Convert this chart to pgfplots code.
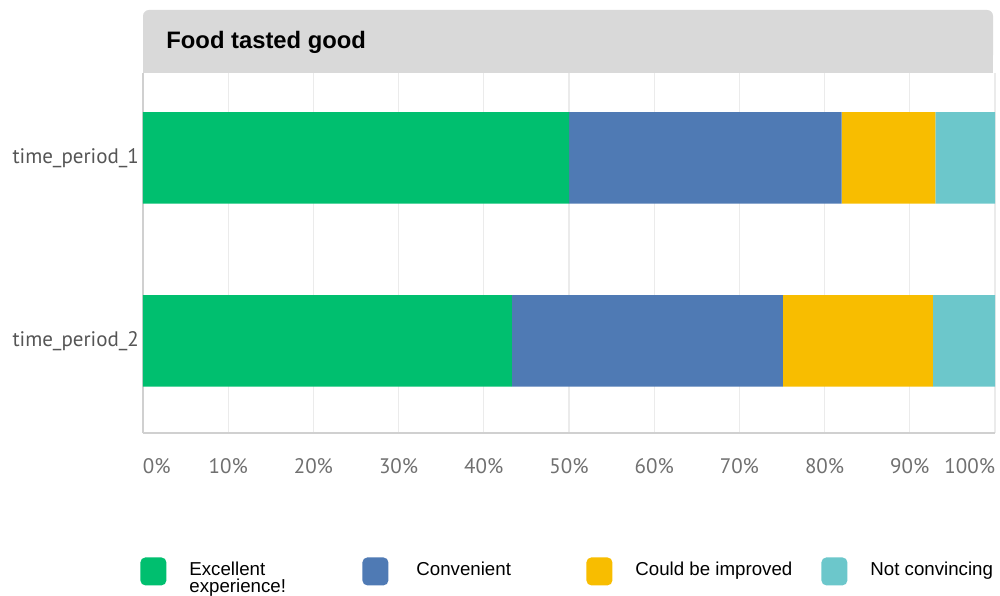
\documentclass[border=0pt]{standalone}
\usepackage{pgfplots}
\pgfplotsset{compat=1.18}
\usepackage{fontspec}
\setmainfont{Liberation Sans}
\newfontfamily\tickfont{PT Sans}
\definecolor{cgreen}{HTML}{00BF6F}
\definecolor{cblue}{HTML}{4F7AB4}
\definecolor{cyellow}{HTML}{F8BD00}
\definecolor{cteal}{HTML}{6CC7CB}
\definecolor{titlegray}{HTML}{D9D9D9}
\definecolor{gridgray}{HTML}{EBEBEB}
\definecolor{axisgray}{HTML}{D0D0D0}
\definecolor{ticktext}{HTML}{707070}
\definecolor{ylabtext}{HTML}{555555}
\begin{document}
\begin{tikzpicture}
\useasboundingbox (-71.5pt,-81pt) rectangle (428.5pt,216.5pt);
\fill[titlegray] (0,180pt) rectangle (425pt,195pt);
\fill[titlegray, rounded corners=3pt] (0,186pt) rectangle (425pt,211.5pt);
\node[anchor=west, inner sep=0pt, font=\fontsize{11.9}{13}\selectfont\bfseries] at (11.5pt,195.5pt) {Food tasted good};
\begin{axis}[
  at={(0,0)}, anchor=south west,
  scale only axis, width=426pt, height=180pt,
  xbar stacked, bar width=0.5,
  xmin=0, xmax=100, ymin=-0.503, ymax=1.464,
  ytick={0,1}, yticklabels={time\_period\_2, time\_period\_1},
  xtick={0,10,...,100},
  xticklabels={\makebox[0pt][l]{0\%},10\%,20\%,30\%,40\%,50\%,60\%,70\%,80\%,90\%,\makebox[0pt][r]{100\%}},
  xticklabel style={font=\tickfont\fontsize{10.5}{12}\selectfont, text=ticktext, yshift=-9pt},
  yticklabel style={font=\tickfont\fontsize{10.5}{12}\selectfont, text=ylabtext, xshift=1.5pt},
  major tick length=0pt,
  xmajorgrids, ymajorgrids=false,
  grid style={gridgray, line width=0.6pt},
  axis x line*=bottom, axis y line*=left,
  axis line style={axisgray, line width=0.7pt, -},
  legend columns=4,
  legend image code/.code={\fill[#1, rounded corners=2.5pt] (0pt,-7.5pt) rectangle (13pt,6.5pt);},
  legend style={at={(0,0)}, anchor=north west, xshift=-1.5pt, yshift=-62pt,
    draw=none, fill=none, inner sep=0pt,
    nodes={inner sep=0pt},
    font=\fontsize{9.35}{10}\selectfont,
    /tikz/every odd column/.append style={column sep=11.5pt}},
]
\addplot[fill=cgreen, draw=none] coordinates {(50,1) (43.3,0)};
\addplot[fill=cblue, draw=none] coordinates {(32,1) (31.8,0)};
\addplot[fill=cyellow, draw=none] coordinates {(11,1) (17.6,0)};
\addplot[fill=cteal, draw=none] coordinates {(7,1) (7.3,0)};
\addlegendentry{\makebox[86.5pt][l]{\vtop{\baselineskip=8.6pt\hbox{Excellent}\hbox{experience!}}}}
\addlegendentry{\makebox[87.5pt][l]{\hspace{2.5pt}Convenient}}
\addlegendentry{\makebox[93pt][l]{Could be improved}}
\addlegendentry{\makebox[62pt][l]{Not convincing}}
\end{axis}
\end{tikzpicture}
\end{document}
